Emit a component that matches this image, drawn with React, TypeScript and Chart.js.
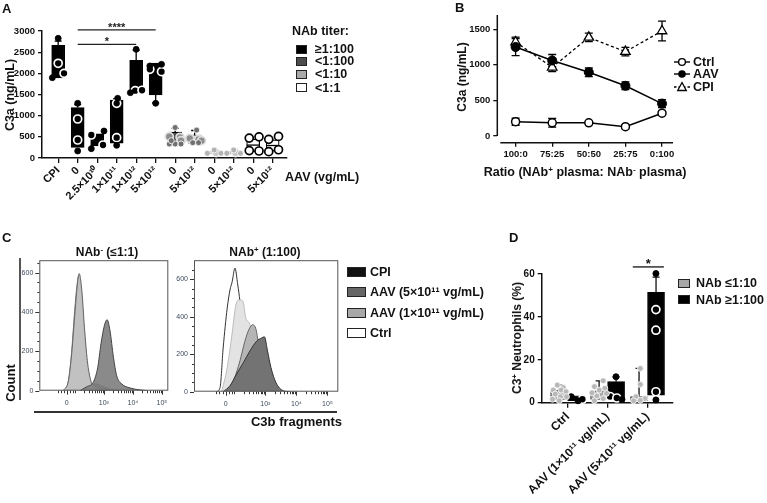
import React, { useEffect, useRef } from 'react';
import { Chart, registerables } from 'chart.js';

Chart.register(...registerables);

const FONT = "'Liberation Sans', Arial, Helvetica, sans-serif";
Chart.defaults.font.family = FONT;
Chart.defaults.color = '#111';

/* ---------------- Panel A data ---------------- */
const aLabels = ['CPI', '0', '2.5×10¹⁰', '1×10¹¹', '1×10¹²', '5×10¹²', '0', '5×10¹²', '0', '5×10¹²', '0', '5×10¹²'];
const aBoxLow = [1890, 250, 285, 350, 1520, 1490, 360, 350, 100, 100, 150, 160];
const aBoxHigh = [2660, 1190, 570, 1370, 2310, 2240, 610, 540, 150, 150, 445, 430];
const aWhisker: (number | null)[] = [2760, 1260, null, 1400, 2540, 1300, 700, 650, null, null, null, null];
const aMedian: (number | null)[] = [null, null, null, null, null, null, null, 515, null, null, 305, 295];
const aTiter = [0, 0, 0, 0, 0, 0, 1, 1, 2, 2, 3, 3];
const aTiterLabels = ['≥1:100', '<1:100', '<1:10', '<1:1'];
const aTiterColors = ['#000000', '#4d4d4d', '#a9a9a9', '#ffffff'];
const aYTicks = [0, 500, 1000, 1500, 2000, 2500, 3000];
// [category, jitter, value]
const aDots: [number, number, number][] = [
  [0, 0, 2827], [0, -0.3, 1897],
  [1, 0, 1292], [1, 0, 165],
  [2, 0.35, 638], [2, -0.3, 220],
  [3, 0.05, 1410], [3, 0, 299],
  [4, 0, 2567], [4, -0.3, 1543],
  [5, -0.3, 2173], [5, 0.3, 2213], [5, 0, 1292],
  [6, 0, 720], [6, -0.3, 331], [6, 0, 331], [6, 0.3, 331], [6, -0.2, 409],
  [7, 0.1, 660], [7, -0.1, 362], [7, 0.2, 362],
  [8, 0, 189], [8, -0.35, 110], [8, 0.35, 110],
  [9, 0, 189], [9, -0.35, 110], [9, 0.35, 110],
];
const aRings: [number, number, number][] = [
  [0, 0, 2237], [0, 0.3, 2000],
  [1, 0, 921], [1, 0, 425],
  [2, -0.3, 543], [2, 0.3, 307],
  [3, 0, 1292], [3, 0, 480],
  [4, -0.05, 1590], [4, 0.3, 1600],
  [5, -0.3, 2095], [5, 0.3, 2040],
  [6, -0.3, 504], [6, 0.25, 489], [6, 0.3, 409],
  [7, -0.25, 465], [7, 0.2, 441], [7, 0.35, 409],
  [8, 0.1, 126], [9, 0.1, 126],
  [10, -0.2, 470], [10, 0.3, 500], [10, -0.2, 175], [10, 0.3, 165],
  [11, -0.2, 440], [11, 0.3, 510], [11, -0.2, 150], [11, 0.3, 195],
];
const aSigFrom = [1, 1];
const aSigTo = [5, 4];
const aSigY = [3025, 2685];
const aSigText = ['****', '*'];

/* ---------------- Panel B data ---------------- */
const bLabels = ['100:0', '75:25', '50:50', '25:75', '0:100'];
const bYTicks = [0, 500, 1000, 1500];
const bCtrl = [200, 185, 185, 130, 320];
const bCtrlSD = [50, 60, 15, 30, 25];
const bAAV = [1250, 1060, 895, 705, 455];
const bAAVSD = [120, 85, 60, 55, 55];
const bCPI = [1320, 965, 1385, 1185, 1475];
const bCPISD = [70, 60, 60, 60, 140];

/* ---------------- Panel C data ---------------- */
const cMajorX = [0, 1.28, 2.28, 3.28];
const cMajorXLabels = ['0', '10³', '10⁴', '10⁵'];
const cMajorY = [0, 200, 400, 600];
const cMinorY = [50, 100, 150, 250, 300, 350, 450, 500, 550, 650];
// left: NAb- (<=1:1)
const cL_CtrlX = [-0.1, 0.05, 0.16, 0.27, 0.35, 0.41, 0.5, 0.6, 0.7, 0.82, 0.97, 1.2];
const cL_CtrlY = [0, 45, 180, 400, 530, 585, 500, 310, 140, 45, 12, 0];
const cL_CPIX = [0.6, 0.8, 1.0, 1.2, 1.5, 1.8];
const cL_CPIY = [0, 20, 35, 25, 8, 0];
const cL_AAV1X = [-0.12, 0.06, 0.17, 0.29, 0.37, 0.43, 0.52, 0.61, 0.71, 0.83, 0.98, 1.2, 1.38];
const cL_AAV1Y = [0, 51, 187, 408, 544, 595, 510, 323, 153, 51, 17, 4, 0];
const cL_AAV5X = [0.46, 0.69, 0.91, 1.07, 1.18, 1.3, 1.39, 1.49, 1.61, 1.72, 1.9, 2.18, 2.53, 2.76];
const cL_AAV5Y = [0, 20, 42, 119, 238, 332, 361, 306, 170, 77, 34, 14, 4, 0];
// right: NAb+ (1:100)
const cR_CtrlX = [-0.29, -0.18, -0.08, 0.05, 0.14, 0.21, 0.3, 0.39, 0.46, 0.55, 0.65, 0.78, 0.95, 1.16];
const cR_CtrlY = [0, 23, 234, 446, 543, 587, 660, 570, 481, 287, 164, 76, 23, 0];
const cR_PaleX = [-0.13, 0.03, 0.19, 0.33, 0.43, 0.55, 0.65, 0.78, 0.95, 1.1, 1.31];
const cR_PaleY = [0, 111, 287, 464, 490, 485, 393, 358, 200, 58, 0];
const cR_AAV1X = [-0.02, 0.25, 0.46, 0.62, 0.75, 0.87, 0.98, 1.08, 1.21, 1.37, 1.59];
const cR_AAV1Y = [0, 58, 164, 270, 332, 358, 332, 234, 129, 32, 0];
const cR_AAV5X = [-0.08, 0.14, 0.35, 0.57, 0.78, 1.0, 1.16, 1.25, 1.35, 1.46, 1.62, 1.86, 2.07];
const cR_AAV5Y = [0, 32, 94, 155, 217, 270, 287, 293, 217, 129, 49, 5, 0];
const cLegend = ['CPI', 'AAV (5×10¹¹ vg/mL)', 'AAV (1×10¹¹ vg/mL)', 'Ctrl'];
const cLegendColors = ['#111111', '#666666', '#a8a8a8', '#ffffff'];

/* ---------------- Panel D data ---------------- */
const dLabels = ['Ctrl', 'AAV (1×10¹¹ vg/mL)', 'AAV (5×10¹¹ vg/mL)'];
const dYTicks = [0, 20, 40, 60];
const dGrayLow = [1.5, 1.5, 0.8];
const dGrayHigh = [5.9, 5.5, 2.8];
const dGrayWhisker = [8.2, 10.2, 16];
const dBlackLow = [0.9, 2, 3.5];
const dBlackHigh = [2.5, 9.8, 51.5];
const dBlackWhisker = [2.9, 12, 58.5];
const dGrayPts: [number, number, number][] = [
  [0, -0.05, 8.2], [0, 0.1, 7.1], [0, -0.15, 5.9], [0, 0.05, 5.9], [0, 0.17, 5.1], [0, -0.1, 4.0], [0, 0.03, 2.8], [0, 0.18, 2.8], [0, -0.17, 1.6], [0, 0, 0.9],
  [1, 0.1, 10.2], [1, -0.12, 7.5], [1, 0.14, 6.7], [1, 0.0, 5.9], [1, -0.18, 4.6], [1, 0.18, 4.3], [1, -0.06, 3.1], [1, 0.1, 1.9], [1, -0.12, 0.9],
  [2, 0.03, 16], [2, 0.03, 8.5], [2, -0.08, 2.8], [2, 0.14, 1.9], [2, 0.03, 1.1], [2, -0.14, 0.9],
];
const dBlackDots: [number, number, number][] = [
  [0, -0.12, 2.8], [0, 0.05, 0.9],
  [1, 0.0, 12.1], [1, 0.15, 1.5],
  [2, 0, 60.2], [2, 0, 1.3],
];
const dBlackRings: [number, number, number][] = [
  [0, 0.16, 1.6],
  [1, -0.15, 2.9], [1, 0.02, 2.2],
  [2, 0, 43.4], [2, 0, 33.8], [2, 0, 5.1],
];
const dSigFrom = 1.63;
const dSigTo = 2.41;
const dSigY = 63.3;
const dLegend = ['NAb ≤1:10', 'NAb ≥1:100'];
const dLegendColors = ['#a6a6a6', '#000000'];

/* ---------------- helpers ---------------- */
const base = (pad: any) => ({
  responsive: false,
  maintainAspectRatio: false,
  animation: false,
  devicePixelRatio: 1,
  events: [],
  layout: { padding: pad },
  plugins: { legend: { display: false }, tooltip: { enabled: false } },
});
const axisBorder = { display: true, color: '#111', width: 1.5 };
const tickGrid = (len: number) => ({ display: true, drawOnChartArea: false, drawTicks: true, tickLength: len, color: '#111', lineWidth: 1.3, offset: false });
const plain = (v: any) => String(v);

function Plot({ left, top, width, height, make }: { left: number; top: number; width: number; height: number; make: () => any }) {
  const ref = useRef<HTMLCanvasElement | null>(null);
  useEffect(() => {
    if (!ref.current) return;
    const chart = new Chart(ref.current, make());
    return () => chart.destroy();
  }, []);
  return <canvas ref={ref} width={width} height={height} style={{ position: 'absolute', left, top, width, height }} />;
}

/* ---------------- Panel A chart ---------------- */
const dotFill = ['#000', '#707070', '#b3b3b3', '#fff'];
const dotEdge = ['#000', '#fff', '#fff', '#000'];
const ringFill = ['#000', '#8c8c8c', '#c4c4c4', '#fff'];
const ringEdge = ['#fff', '#dedede', '#eee', '#000'];

function makeA() {
  const aPlugin = {
    id: 'aExtras',
    afterDatasetDraw(chart: any, args: any) {
      if (args.index !== 0) return;
      const { ctx } = chart;
      const y = chart.scales.y;
      const meta = chart.getDatasetMeta(0);
      ctx.save();
      meta.data.forEach((el: any, i: number) => {
        const w = aWhisker[i];
        if (w != null) {
          const edge = w > aBoxHigh[i] ? aBoxHigh[i] : aBoxLow[i];
          const pw = y.getPixelForValue(w);
          ctx.strokeStyle = '#000';
          ctx.lineWidth = 1.3;
          ctx.beginPath();
          ctx.moveTo(el.x, y.getPixelForValue(edge));
          ctx.lineTo(el.x, pw);
          ctx.moveTo(el.x - 3.5, pw);
          ctx.lineTo(el.x + 3.5, pw);
          ctx.stroke();
        }
        const m = aMedian[i];
        if (m != null) {
          const py = y.getPixelForValue(m);
          ctx.strokeStyle = aTiter[i] < 2 ? '#fff' : '#000';
          ctx.lineWidth = 1.3;
          ctx.beginPath();
          ctx.moveTo(el.x - el.width / 2, py);
          ctx.lineTo(el.x + el.width / 2, py);
          ctx.stroke();
        }
      });
      ctx.restore();
    },
    afterDraw(chart: any) {
      const { ctx } = chart;
      const x = chart.scales.x;
      const y = chart.scales.y;
      ctx.save();
      ctx.strokeStyle = '#222';
      ctx.fillStyle = '#222';
      ctx.lineWidth = 1.3;
      ctx.font = `bold 11px ${FONT}`;
      ctx.textAlign = 'center';
      ctx.textBaseline = 'alphabetic';
      aSigFrom.forEach((f, k) => {
        const x1 = x.getPixelForValue(f);
        const x2 = x.getPixelForValue(aSigTo[k]);
        const py = y.getPixelForValue(aSigY[k]);
        ctx.beginPath();
        ctx.moveTo(x1, py);
        ctx.lineTo(x2, py);
        ctx.stroke();
        ctx.fillText(aSigText[k], (x1 + x2) / 2, py + 1);
      });
      ctx.restore();
    },
  };
  return {
    type: 'bar',
    data: {
      datasets: [
        {
          type: 'bar',
          data: aLabels.map((_, i) => ({ x: i, y: [aBoxLow[i], aBoxHigh[i]] })),
          backgroundColor: aTiter.map((t) => aTiterColors[t]),
          borderColor: aTiter.map((t) => (t === 2 ? '#8a8a8a' : '#000')),
          borderWidth: 1.2,
          borderSkipped: false,
          barThickness: 13,
          order: 3,
        },
        {
          type: 'scatter',
          data: aDots.map(([g, dx, v]) => ({ x: g + dx, y: v, g })),
          pointRadius: 3,
          pointBackgroundColor: (c: any) => dotFill[aTiter[c.raw?.g ?? 0]],
          pointBorderColor: (c: any) => dotEdge[aTiter[c.raw?.g ?? 0]],
          pointBorderWidth: 0.8,
          order: 1,
          clip: false,
        },
        {
          type: 'scatter',
          data: aRings.map(([g, dx, v]) => ({ x: g + dx, y: v, g })),
          pointRadius: 4,
          pointBackgroundColor: (c: any) => ringFill[aTiter[c.raw?.g ?? 0]],
          pointBorderColor: (c: any) => ringEdge[aTiter[c.raw?.g ?? 0]],
          pointBorderWidth: 1.7,
          order: 1,
          clip: false,
        },
      ],
    },
    options: {
      ...base({ left: 0, top: 31, right: 5, bottom: 0 }),
      scales: {
        x: {
          type: 'linear',
          min: -0.83,
          max: 11.7,
          offset: false,
          afterBuildTicks: (s: any) => { s.ticks = aLabels.map((_, i) => ({ value: i })); },
          afterFit: (s: any) => { s.height = 82; },
          ticks: {
            autoSkip: false,
            minRotation: 45,
            maxRotation: 45,
            padding: 1,
            font: { size: 11, weight: 'bold' },
            color: '#111',
            callback: (_v: any, i: number) => aLabels[i] ?? '',
          },
          grid: tickGrid(5),
          border: axisBorder,
        },
        y: {
          min: 0,
          max: 3000,
          afterBuildTicks: (s: any) => { s.ticks = aYTicks.map((v) => ({ value: v })); },
          afterFit: (s: any) => { s.width = 42; },
          ticks: { font: { size: 9.5, weight: 'bold' }, padding: 3, color: '#111', callback: plain },
          grid: tickGrid(4),
          border: axisBorder,
        },
      },
    },
    plugins: [aPlugin],
  };
}

/* ---------------- Panel B chart ---------------- */
function makeB() {
  const series = [bCtrl, bAAV, bCPI];
  const errs = [bCtrlSD, bAAVSD, bCPISD];
  const bPlugin = {
    id: 'bExtras',
    beforeDatasetsDraw(chart: any) {
      const { ctx } = chart;
      const y = chart.scales.y;
      ctx.save();
      ctx.strokeStyle = '#000';
      ctx.lineWidth = 1.3;
      series.forEach((s, d) => {
        const meta = chart.getDatasetMeta(d);
        meta.data.forEach((el: any, i: number) => {
          const t = y.getPixelForValue(s[i] + errs[d][i]);
          const b = y.getPixelForValue(s[i] - errs[d][i]);
          ctx.beginPath();
          ctx.moveTo(el.x, t); ctx.lineTo(el.x, b);
          ctx.moveTo(el.x - 4, t); ctx.lineTo(el.x + 4, t);
          ctx.moveTo(el.x - 4, b); ctx.lineTo(el.x + 4, b);
          ctx.stroke();
        });
      });
      ctx.restore();
    },
    afterDraw(chart: any) {
      const { ctx, chartArea: a } = chart;
      const y = chart.scales.y;
      ctx.save();
      ctx.strokeStyle = '#111';
      ctx.lineWidth = 1.5;
      ctx.beginPath();
      ctx.moveTo(a.left, a.top);
      ctx.lineTo(a.left, y.getPixelForValue(0));
      ctx.moveTo(a.left + 3, a.bottom);
      ctx.lineTo(a.right, a.bottom);
      ctx.stroke();
      ctx.restore();
    },
  };
  const mk = (vals: number[]) => vals.map((v, i) => ({ x: i, y: v }));
  return {
    type: 'line',
    data: {
      datasets: [
        { data: mk(bCtrl), borderColor: '#000', borderWidth: 1.5, pointStyle: 'circle', pointRadius: 4, pointBackgroundColor: '#fff', pointBorderColor: '#000', pointBorderWidth: 1.5, tension: 0 },
        { data: mk(bAAV), borderColor: '#000', borderWidth: 1.5, pointStyle: 'circle', pointRadius: 4.5, pointBackgroundColor: '#000', pointBorderColor: '#000', pointBorderWidth: 1, tension: 0 },
        { data: mk(bCPI), borderColor: '#000', borderWidth: 1.3, borderDash: [3, 2.5], pointStyle: 'triangle', pointRadius: 5.5, pointBackgroundColor: '#fff', pointBorderColor: '#000', pointBorderWidth: 1.3, tension: 0 },
      ],
    },
    options: {
      ...base({ left: 0, top: 15, right: 17, bottom: 0 }),
      scales: {
        x: {
          type: 'linear',
          min: -0.5,
          max: 4.3,
          afterBuildTicks: (s: any) => { s.ticks = bLabels.map((_, i) => ({ value: i })); },
          afterFit: (s: any) => { s.height = 22.3; },
          ticks: { autoSkip: false, maxRotation: 0, padding: 2, font: { size: 9.5, weight: 'bold' }, color: '#111', callback: (_v: any, i: number) => bLabels[i] ?? '' },
          grid: tickGrid(4),
          border: { display: false },
        },
        y: {
          min: -95,
          max: 1700,
          afterBuildTicks: (s: any) => { s.ticks = bYTicks.map((v) => ({ value: v })); },
          afterFit: (s: any) => { s.width = 97.3; },
          ticks: { font: { size: 9.5, weight: 'bold' }, padding: 3, color: '#111', callback: plain },
          grid: tickGrid(4),
          border: { display: false },
        },
      },
    },
    plugins: [bPlugin],
  };
}

/* ---------------- Panel C charts ---------------- */
const cMinorX: number[] = [-0.3, -0.2, -0.1, 0.1, 0.2, 0.28];
[0.28, 1.28, 2.28].forEach((b) => { for (let k = 2; k <= 9; k++) cMinorX.push(b + Math.log10(k)); });

type Curve = { x: number[]; y: number[]; fill: string; stroke: string };

function makeHist(curves: Curve[], xmin: number, xmax: number, ymax: number, yW: number, xH: number, pad: any) {
  const frame = {
    id: 'histFrame',
    afterDraw(chart: any) {
      const { ctx, chartArea: a } = chart;
      const x = chart.scales.x;
      const y = chart.scales.y;
      ctx.save();
      ctx.strokeStyle = '#555';
      ctx.lineWidth = 1;
      ctx.strokeRect(a.left + 0.5, a.top + 0.5, a.right - a.left - 1, a.bottom - a.top - 1);
      ctx.strokeStyle = '#333';
      ctx.beginPath();
      cMajorX.forEach((v) => { const p = Math.round(x.getPixelForValue(v)) + 0.5; ctx.moveTo(p, a.bottom); ctx.lineTo(p, a.bottom + 4); });
      cMinorX.forEach((v) => { if (v < xmin || v > xmax) return; const p = Math.round(x.getPixelForValue(v)) + 0.5; ctx.moveTo(p, a.bottom); ctx.lineTo(p, a.bottom + 2.5); });
      cMajorY.forEach((v) => { const p = Math.round(y.getPixelForValue(v)) + 0.5; ctx.moveTo(a.left, p); ctx.lineTo(a.left - 4, p); });
      cMinorY.forEach((v) => { if (v > ymax) return; const p = Math.round(y.getPixelForValue(v)) + 0.5; ctx.moveTo(a.left, p); ctx.lineTo(a.left - 2, p); });
      ctx.stroke();
      ctx.restore();
    },
  };
  return {
    type: 'line',
    data: {
      datasets: curves.map((c, i) => ({
        data: c.x.map((xv, k) => ({ x: xv, y: c.y[k] })),
        fill: 'origin',
        backgroundColor: c.fill,
        borderColor: c.stroke,
        borderWidth: 1,
        pointRadius: 0,
        cubicInterpolationMode: 'monotone',
        order: curves.length - i,
      })),
    },
    options: {
      ...base(pad),
      scales: {
        x: {
          type: 'linear',
          min: xmin,
          max: xmax,
          afterBuildTicks: (s: any) => { s.ticks = cMajorX.map((v) => ({ value: v })); },
          afterFit: (s: any) => { s.height = xH; },
          ticks: { autoSkip: false, maxRotation: 0, padding: 8, font: { size: 7 }, color: '#3d4b5c', callback: (_v: any, i: number) => cMajorXLabels[i] ?? '' },
          grid: { display: false, drawTicks: false },
          border: { display: false },
        },
        y: {
          min: 0,
          max: ymax,
          afterBuildTicks: (s: any) => { s.ticks = cMajorY.map((v) => ({ value: v })); },
          afterFit: (s: any) => { s.width = yW; },
          ticks: { padding: 6, font: { size: 7 }, color: '#3d4b5c', callback: plain },
          grid: { display: false, drawTicks: false },
          border: { display: false },
        },
      },
    },
    plugins: [frame],
  };
}

const makeCL = () =>
  makeHist(
    [
      { x: cL_CtrlX, y: cL_CtrlY, fill: '#d2d2d2', stroke: '#777' },
      { x: cL_CPIX, y: cL_CPIY, fill: '#5a5a5a', stroke: '#333' },
      { x: cL_AAV1X, y: cL_AAV1Y, fill: 'rgba(192,192,192,0.95)', stroke: '#666' },
      { x: cL_AAV5X, y: cL_AAV5Y, fill: 'rgba(128,128,128,0.92)', stroke: '#444' },
    ],
    -0.945, 3.5, 663, 39.3, 24.3, { left: 0, top: 10, right: 11.7, bottom: 0 }
  );

const makeCR = () =>
  makeHist(
    [
      { x: cR_CtrlX, y: cR_CtrlY, fill: '#ffffff', stroke: '#333' },
      { x: cR_PaleX, y: cR_PaleY, fill: '#e3e3e3', stroke: '#bbb' },
      { x: cR_AAV1X, y: cR_AAV1Y, fill: '#b5b5b5', stroke: '#666' },
      { x: cR_AAV5X, y: cR_AAV5Y, fill: '#737373', stroke: '#333' },
    ],
    -1.02, 3.63, 702, 29, 23.3, { left: 0, top: 8.3, right: 6.7, bottom: 0 }
  );

/* ---------------- Panel D chart ---------------- */
function makeD() {
  const gOff = -0.21;
  const bOff = 0.21;
  const dPlugin = {
    id: 'dExtras',
    afterDatasetDraw(chart: any, args: any) {
      if (args.index > 1) return;
      const hi = args.index === 0 ? dGrayHigh : dBlackHigh;
      const wh = args.index === 0 ? dGrayWhisker : dBlackWhisker;
      const { ctx } = chart;
      const y = chart.scales.y;
      const meta = chart.getDatasetMeta(args.index);
      ctx.save();
      ctx.strokeStyle = '#111';
      ctx.lineWidth = 1.3;
      meta.data.forEach((el: any, i: number) => {
        const pw = y.getPixelForValue(wh[i]);
        ctx.beginPath();
        ctx.moveTo(el.x, y.getPixelForValue(hi[i]));
        ctx.lineTo(el.x, pw);
        ctx.moveTo(el.x - 3.5, pw);
        ctx.lineTo(el.x + 3.5, pw);
        ctx.stroke();
      });
      ctx.restore();
    },
    afterDraw(chart: any) {
      const { ctx } = chart;
      const x = chart.scales.x;
      const y = chart.scales.y;
      const x1 = x.getPixelForValue(dSigFrom);
      const x2 = x.getPixelForValue(dSigTo);
      const py = y.getPixelForValue(dSigY);
      ctx.save();
      ctx.strokeStyle = '#111';
      ctx.fillStyle = '#111';
      ctx.lineWidth = 1.3;
      ctx.beginPath();
      ctx.moveTo(x1, py);
      ctx.lineTo(x2, py);
      ctx.stroke();
      ctx.font = `bold 13px ${FONT}`;
      ctx.textAlign = 'center';
      ctx.textBaseline = 'alphabetic';
      ctx.fillText('*', (x1 + x2) / 2, py + 1);
      ctx.restore();
    },
  };
  return {
    type: 'bar',
    data: {
      datasets: [
        { type: 'bar', data: dLabels.map((_, i) => ({ x: i, y: [dGrayLow[i], dGrayHigh[i]] })), backgroundColor: dLegendColors[0], borderColor: '#333', borderWidth: 1, borderSkipped: false, barThickness: 17, order: 3 },
        { type: 'bar', data: dLabels.map((_, i) => ({ x: i, y: [dBlackLow[i], dBlackHigh[i]] })), backgroundColor: dLegendColors[1], borderColor: '#000', borderWidth: 1, borderSkipped: false, barThickness: 17, order: 3 },
        { type: 'scatter', data: dGrayPts.map(([c, j, v]) => ({ x: c + gOff + j, y: v })), pointRadius: 3, pointBackgroundColor: '#b8b8b8', pointBorderColor: '#fff', pointBorderWidth: 0.8, order: 1, clip: false },
        { type: 'scatter', data: dBlackDots.map(([c, j, v]) => ({ x: c + bOff + j, y: v })), pointRadius: 3, pointBackgroundColor: '#000', pointBorderColor: '#000', pointBorderWidth: 1, order: 1, clip: false },
        { type: 'scatter', data: dBlackRings.map(([c, j, v]) => ({ x: c + bOff + j, y: v })), pointRadius: 4, pointBackgroundColor: '#000', pointBorderColor: '#fff', pointBorderWidth: 1.7, order: 1, clip: false },
      ],
    },
    options: {
      ...base({ left: 0, top: 24, right: 3, bottom: 0 }),
      scales: {
        x: {
          type: 'linear',
          min: -0.65,
          max: 2.62,
          offset: false,
          afterBuildTicks: (s: any) => { s.ticks = dLabels.map((_, i) => ({ value: i })); },
          afterFit: (s: any) => { s.height = 100.3; },
          ticks: { autoSkip: false, minRotation: 45, maxRotation: 45, padding: 2, font: { size: 12, weight: 'bold' }, color: '#111', callback: (_v: any, i: number) => dLabels[i] ?? '' },
          grid: tickGrid(5),
          border: axisBorder,
        },
        y: {
          min: 0,
          max: 60,
          afterBuildTicks: (s: any) => { s.ticks = dYTicks.map((v) => ({ value: v })); },
          afterFit: (s: any) => { s.width = 61.7; },
          ticks: { font: { size: 10, weight: 'bold' }, padding: 3, color: '#111', callback: plain },
          grid: tickGrid(4),
          border: axisBorder,
        },
      },
    },
    plugins: [dPlugin],
  };
}

/* ---------------- HTML text ---------------- */
function Label({ x, y, size = 12.5, align = 'left', rot = 0, children, color = '#111', weight = 700 }: {
  x: number; y: number; size?: number; align?: 'left' | 'center' | 'right'; rot?: number; children: React.ReactNode; color?: string; weight?: number;
}) {
  const tx = align === 'left' ? '0' : align === 'center' ? '-50%' : '-100%';
  return (
    <div
      style={{
        position: 'absolute', left: x, top: y,
        transform: `translate(${tx}, -50%)${rot ? ` rotate(${rot}deg)` : ''}`,
        fontFamily: FONT, fontSize: size, fontWeight: weight, color, whiteSpace: 'nowrap', lineHeight: 1,
      }}
    >
      {children}
    </div>
  );
}
const Sup = ({ children }: { children: React.ReactNode }) => (
  <span style={{ fontSize: '0.65em', position: 'relative', top: '-0.5em' }}>{children}</span>
);
function Swatch({ x, y, w, h, color }: { x: number; y: number; w: number; h: number; color: string }) {
  return <div style={{ position: 'absolute', left: x, top: y - h / 2, width: w, height: h, background: color, border: '1.3px solid #222', boxSizing: 'border-box' }} />;
}
function LineKey({ x, y, kind }: { x: number; y: number; kind: 'open' | 'filled' | 'tri' }) {
  return (
    <svg style={{ position: 'absolute', left: x, top: y - 6 }} width={16} height={12}>
      <line x1={0} y1={6} x2={16} y2={6} stroke="#000" strokeWidth={1.4} strokeDasharray={kind === 'tri' ? '2.5 2' : undefined} />
      {kind === 'open' && <circle cx={8} cy={6} r={3.4} fill="#fff" stroke="#000" strokeWidth={1.4} />}
      {kind === 'filled' && <circle cx={8} cy={6} r={3.8} fill="#000" />}
      {kind === 'tri' && <polygon points="8,1.5 12.3,9.5 3.7,9.5" fill="#fff" stroke="#000" strokeWidth={1.3} />}
    </svg>
  );
}

const aLegendY = [49.3, 61, 74, 87.5];
const bLegend = ['Ctrl', 'AAV', 'CPI'];
const bLegendY = [61.7, 74, 87.3];
const bLegendKind: ('open' | 'filled' | 'tri')[] = ['open', 'filled', 'tri'];
const cLegendY = [272.2, 291.7, 313.3, 333.3];
const dLegendY = [283.3, 299.5];

export default function App() {
  return (
    <div style={{ position: 'fixed', left: 0, top: 0, width: 767, height: 503, background: '#fff', overflow: 'hidden' }}>
      <Plot left={0} top={0} width={292} height={240} make={makeA} />
      <Plot left={400} top={0} width={290} height={165} make={makeB} />
      <Plot left={0} top={250} width={180} height={165} make={makeCL} />
      <Plot left={165} top={250} width={180} height={165} make={makeCR} />
      <Plot left={480} top={250} width={198} height={253} make={makeD} />

      {/* Panel letters */}
      <Label x={2} y={8} size={13}>A</Label>
      <Label x={455} y={7} size={13}>B</Label>
      <Label x={2} y={237} size={13}>C</Label>
      <Label x={509} y={237} size={13}>D</Label>

      {/* Panel A */}
      <Label x={10} y={95} rot={-90} align="center" size={12.5}>C3a (ng/mL)</Label>
      <Label x={292} y={31} size={12.5}>NAb titer:</Label>
      {aTiterLabels.map((t, i) => (
        <React.Fragment key={t}>
          <Swatch x={296} y={aLegendY[i]} w={11} h={9} color={aTiterColors[i]} />
          <Label x={315} y={aLegendY[i]} size={12.5}>{t}</Label>
        </React.Fragment>
      ))}
      <Label x={285} y={177} size={12.5}>AAV (vg/mL)</Label>

      {/* Panel B */}
      <Label x={462} y={77} rot={-90} align="center" size={12}>C3a (ng/mL)</Label>
      <Label x={585} y={172} align="center" size={12.5}>
        Ratio (NAb<Sup>+</Sup> plasma: NAb<Sup>-</Sup> plasma)
      </Label>
      {bLegend.map((t, i) => (
        <React.Fragment key={t}>
          <LineKey x={674} y={bLegendY[i]} kind={bLegendKind[i]} />
          <Label x={693} y={bLegendY[i]} size={12.5}>{t}</Label>
        </React.Fragment>
      ))}

      {/* Panel C */}
      <Label x={107} y={252} align="center" size={12}>NAb<Sup>-</Sup> (≤1:1)</Label>
      <Label x={265} y={252} align="center" size={12}>NAb<Sup>+</Sup> (1:100)</Label>
      <div style={{ position: 'absolute', left: 18.5, top: 258, width: 2, height: 142, background: '#555' }} />
      <Label x={10} y={383} rot={-90} align="center" size={13}>Count</Label>
      <div style={{ position: 'absolute', left: 34, top: 411, width: 303, height: 2, background: '#333' }} />
      <Label x={342} y={421} align="right" size={13}>C3b fragments</Label>
      {cLegend.map((t, i) => (
        <React.Fragment key={t}>
          <Swatch x={347} y={cLegendY[i]} w={19} h={10} color={cLegendColors[i]} />
          <Label x={370} y={cLegendY[i]} size={12.5}>{t}</Label>
        </React.Fragment>
      ))}

      {/* Panel D */}
      <Label x={517} y={338} rot={-90} align="center" size={12}>C3<Sup>+</Sup> Neutrophils (%)</Label>
      {dLegend.map((t, i) => (
        <React.Fragment key={t}>
          <Swatch x={678} y={dLegendY[i]} w={12} h={9} color={dLegendColors[i]} />
          <Label x={696} y={dLegendY[i]} size={12.5}>{t}</Label>
        </React.Fragment>
      ))}
    </div>
  );
}
